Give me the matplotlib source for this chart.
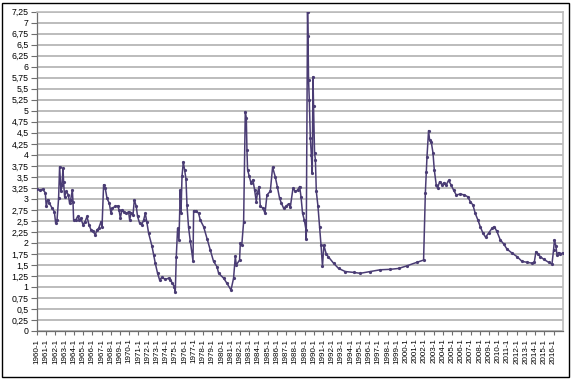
import numpy as np
import matplotlib
matplotlib.use('Agg')
import matplotlib.pyplot as plt
from matplotlib.ticker import FuncFormatter, MultipleLocator
from matplotlib.patches import Rectangle

plt.rcParams['font.family'] = ['Liberation Sans', 'DejaVu Sans']

# decimal year of each reading and value
years = [1960.0, 1960.3, 1960.6, 1960.9, 1961.0, 1961.15, 1961.35, 1961.63, 1961.88, 1962.02,
         1962.17, 1962.34, 1962.45, 1962.6, 1962.71, 1962.82, 1962.88, 1962.99, 1963.18, 1963.4,
         1963.53, 1963.65, 1963.83, 1963.9, 1963.97, 1964.2, 1964.4, 1964.6, 1964.75, 1964.99,
         1965.2, 1965.42, 1965.63, 1965.85, 1966.1, 1966.32, 1966.5, 1966.68, 1966.94, 1967.05,
         1967.22, 1967.4, 1967.59, 1967.84, 1968.02, 1968.16, 1968.49, 1968.74, 1968.9, 1969.03,
         1969.21, 1969.45, 1969.7, 1969.93, 1970.04, 1970.2, 1970.41, 1970.55, 1970.76, 1970.9,
         1971.12, 1971.35, 1971.56, 1971.74, 1971.9, 1972.1, 1972.47, 1972.64, 1972.82, 1973.07,
         1973.29, 1973.55, 1973.9, 1974.27, 1974.45, 1974.63, 1974.88, 1974.99, 1975.1, 1975.24,
         1975.39, 1975.53, 1975.61, 1975.72, 1975.86, 1976.0, 1976.15, 1976.26, 1976.43, 1976.62,
         1976.91, 1976.98, 1977.24, 1977.52, 1977.7, 1978.06, 1978.43, 1978.79, 1979.14, 1979.51,
         1979.69, 1980.23, 1980.6, 1981.03, 1981.31, 1981.5, 1981.6, 1981.96, 1982.04, 1982.2,
         1982.4, 1982.58, 1982.69, 1982.76, 1982.83, 1983.01, 1983.2, 1983.41, 1983.59, 1983.77,
         1983.9, 1984.07, 1984.21, 1984.5, 1984.72, 1984.93, 1985.29, 1985.54, 1985.83, 1986.05,
         1986.3, 1986.5, 1986.73, 1987.0, 1987.27, 1987.46, 1987.75, 1988.0, 1988.25, 1988.47,
         1988.62, 1988.79, 1988.98, 1989.16, 1989.19, 1989.33, 1989.38, 1989.44, 1989.52, 1989.63,
         1989.74, 1989.84, 1989.92, 1989.98, 1990.09, 1990.18, 1990.28, 1990.46, 1990.63, 1990.79,
         1990.95, 1991.1, 1991.35, 1991.6, 1992.15, 1992.69, 1993.42, 1994.32, 1995.05, 1996.13,
         1997.22, 1998.3, 1999.2, 2000.11, 2001.19, 2001.91, 2002.1, 2002.2, 2002.28, 2002.45,
         2002.56, 2002.74, 2002.93, 2003.07, 2003.28, 2003.43, 2003.64, 2003.9, 2004.15, 2004.37,
         2004.62, 2004.88, 2005.16, 2005.45, 2005.89, 2006.32, 2006.68, 2006.97, 2007.26, 2007.51,
         2007.8, 2008.05, 2008.35, 2008.63, 2008.95, 2009.32, 2009.57, 2009.86, 2010.22, 2010.58,
         2010.95, 2011.49, 2012.03, 2012.58, 2013.12, 2013.66, 2013.91, 2014.09, 2014.27, 2014.56,
         2014.92, 2015.46, 2015.83, 2016.0, 2016.1, 2016.26, 2016.37, 2016.54, 2016.73, 2017.0]

values = [3.22, 3.2, 3.22, 3.14, 2.83, 2.98, 2.9, 2.79, 2.71, 2.45,
          2.52, 3.01, 3.73, 3.17, 3.32, 3.7, 3.39, 3.05, 3.17, 3.09,
          2.9, 2.98, 3.2, 2.94, 2.52, 2.52, 2.6, 2.52, 2.56, 2.41,
          2.48, 2.6, 2.41, 2.3, 2.26, 2.18, 2.3, 2.33, 2.48, 2.37,
          3.32, 3.24, 3.01, 2.9, 2.67, 2.79, 2.83, 2.84, 2.75, 2.56,
          2.75, 2.71, 2.67, 2.71, 2.52, 2.67, 2.64, 2.98, 2.83, 2.6,
          2.45, 2.41, 2.52, 2.67, 2.48, 2.22, 1.92, 1.73, 1.54, 1.31,
          1.16, 1.22, 1.17, 1.2, 1.16, 1.1, 1.01, 0.89, 1.69, 2.33,
          2.07, 3.2, 2.67, 3.51, 3.84, 3.66, 3.45, 2.85, 2.35, 2.04,
          1.59, 2.73, 2.73, 2.67, 2.52, 2.37, 2.1, 1.84, 1.58, 1.46,
          1.31, 1.2, 1.08, 0.93, 1.2, 1.7, 1.5, 1.61, 1.99, 1.95,
          2.48, 4.98, 4.84, 4.11, 3.66, 3.51, 3.36, 3.43, 3.2, 2.94,
          3.13, 3.28, 2.83, 2.79, 2.67, 3.09, 3.17, 3.72, 3.5, 3.28,
          3.01, 2.9, 2.79, 2.83, 2.89, 2.81, 3.24, 3.17, 3.2, 3.28,
          3.05, 2.67, 2.52, 2.3, 2.08, 7.25, 6.69, 5.7, 5.25, 4.38,
          4.0, 3.58, 5.77, 5.1, 4.04, 3.89, 3.17, 2.83, 2.37, 1.95,
          1.47, 1.95, 1.75, 1.68, 1.54, 1.42, 1.35, 1.33, 1.31, 1.35,
          1.39, 1.4, 1.42, 1.48, 1.56, 1.61, 3.13, 3.62, 3.96, 4.55,
          4.34, 4.3, 4.04, 3.66, 3.32, 3.24, 3.39, 3.32, 3.37, 3.32,
          3.42, 3.32, 3.2, 3.09, 3.11, 3.09, 3.05, 2.94, 2.86, 2.67,
          2.52, 2.37, 2.22, 2.13, 2.22, 2.33, 2.37, 2.26, 2.07, 1.98,
          1.86, 1.77, 1.69, 1.58, 1.56, 1.54, 1.56, 1.8, 1.75, 1.69,
          1.63, 1.56, 1.52, 1.84, 2.07, 1.92, 1.73, 1.78, 1.75, 1.77]

tick_years  = list(range(1960, 2017))
tick_labels = ['{}-1'.format(y) for y in tick_years]

line_color  = '#4a3c74'
axis_color  = '#6e6e6e'

fig = plt.figure(figsize=(5.72, 3.80), dpi=100)
ax  = fig.add_axes([0.0647, 0.129, 0.9195, 0.8402])

ax.plot(years, values, '-', lw=1.1, c=line_color, marker='o', ms=1.3, mec=line_color, zorder=3)

ax.set_xlim(1960.0, 2017.02)
ax.set_ylim(0, 7.25)
ax.yaxis.set_major_locator(MultipleLocator(0.25))
ax.yaxis.set_major_formatter(FuncFormatter(lambda v, p: ('%g' % v).replace('.', ',')))
ax.grid(axis='y', color='#bcbcbc', lw=1.4)
ax.set_axisbelow(True)

ax.set_xticks(tick_years)
ax.set_xticklabels(tick_labels, rotation=90, fontsize=5.8)
ax.tick_params(axis='y', labelsize=6.3, length=4, width=0.8, color=axis_color, pad=2)
ax.tick_params(axis='x', length=3, width=0.8, color=axis_color, pad=2.5)

for side in ['left', 'bottom']:
    ax.spines[side].set_color(axis_color)
    ax.spines[side].set_linewidth(0.9)
for side in ['top', 'right']:
    ax.spines[side].set_color('#bcbcbc')
    ax.spines[side].set_linewidth(1.2)

# black frame round the whole chart
fig.patches.append(Rectangle((0.003, 0.008), 0.992, 0.985, transform=fig.transFigure,
                             fill=False, ec='black', lw=1.0))

plt.savefig('out.png', dpi=100)
